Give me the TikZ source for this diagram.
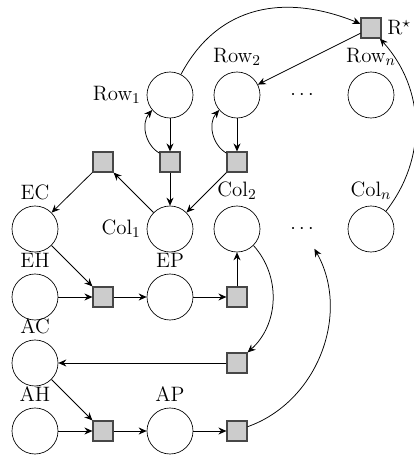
\documentclass[tikz,border=0pt]{standalone}
\usetikzlibrary{arrows.meta}
\begin{document}
\begin{tikzpicture}[x=0.6pt,y=-0.6pt,
  every node/.style={font=\fontsize{12.5}{15}\selectfont},
  every label/.style={font=\fontsize{12.5}{15}\selectfont},
  >={Stealth[length=4.8pt,width=4.2pt,inset=1.6pt]},
  var/.style={circle,draw,minimum size=27.6pt,inner sep=0pt},
  dotsnode/.style={circle,minimum size=27.6pt,inner sep=0pt},
  fac/.style={rectangle,draw=black!72,fill=black!20,line width=1.1pt,minimum size=11.6pt,inner sep=0pt},
  edge/.style={->,line width=0.45pt}]
\useasboundingbox (0,0) rectangle (414,457);
% factor R*
\node[fac,label=right:{R$^\star$}] (rstar) at (371,28) {};
% rows
\node[var,label=left:{Row$_1$}] (row1) at (170,95) {};
\node[var,label=above:{Row$_2$}] (row2) at (237,95) {};
\node[dotsnode] (rowd) at (302,95) {$\cdots$};
\node[var,label=above:{Row$_n$}] (rown) at (371,95) {};
% factors
\node[fac] (f1) at (103,162) {};
\node[fac] (f2) at (170,162) {};
\node[fac] (f3) at (237,162) {};
% columns
\node[var,label=above:{EC}] (ec) at (35,229) {};
\node[var,label=left:{Col$_1$}] (col1) at (170,229) {};
\node[var,label=above:{Col$_2$}] (col2) at (237,229) {};
\node[dotsnode] (cold) at (302,229) {$\cdots$};
\node[var,label=above:{Col$_n$}] (coln) at (371,229) {};
% E row
\node[var,label=above:{EH}] (eh) at (35,297) {};
\node[fac] (fe1) at (103,297) {};
\node[var,label=above:{EP}] (ep) at (170,297) {};
\node[fac] (fe2) at (237,297) {};
% A rows
\node[var,label=above:{AC}] (ac) at (35,363) {};
\node[fac] (fa0) at (237,363) {};
\node[var,label=above:{AH}] (ah) at (35,431) {};
\node[fac] (fa1) at (103,431) {};
\node[var,label=above:{AP}] (ap) at (170,431) {};
\node[fac] (fa2) at (237,431) {};
% edges
\draw[edge] (row1) to[out=62,in=158,looseness=1.1] (rstar);
\draw[edge] (rstar) -- (row2);
\draw[edge] (coln) to[bend right=40] (rstar);
\draw[edge] (row1) -- (f2);
\draw[edge] (row2) -- (f3);
\draw[edge] (f2) to[bend left=50] (row1);
\draw[edge] (f3) to[bend left=50] (row2);
\draw[edge] (f2) -- (col1);
\draw[edge] (f3) -- (col1);
\draw[edge] (col1) -- (f1);
\draw[edge] (f1) -- (ec);
\draw[edge] (ec) -- (fe1);
\draw[edge] (eh) -- (fe1);
\draw[edge] (fe1) -- (ep);
\draw[edge] (ep) -- (fe2);
\draw[edge] (fe2) -- (col2);
\draw[edge] (col2) to[bend left=45] (fa0);
\draw[edge] (fa0) -- (ac);
\draw[edge] (ac) -- (fa1);
\draw[edge] (ah) -- (fa1);
\draw[edge] (fa1) -- (ap);
\draw[edge] (ap) -- (fa2);
\draw[edge] (fa2) to[bend right=50] (cold);
\end{tikzpicture}
\end{document}
